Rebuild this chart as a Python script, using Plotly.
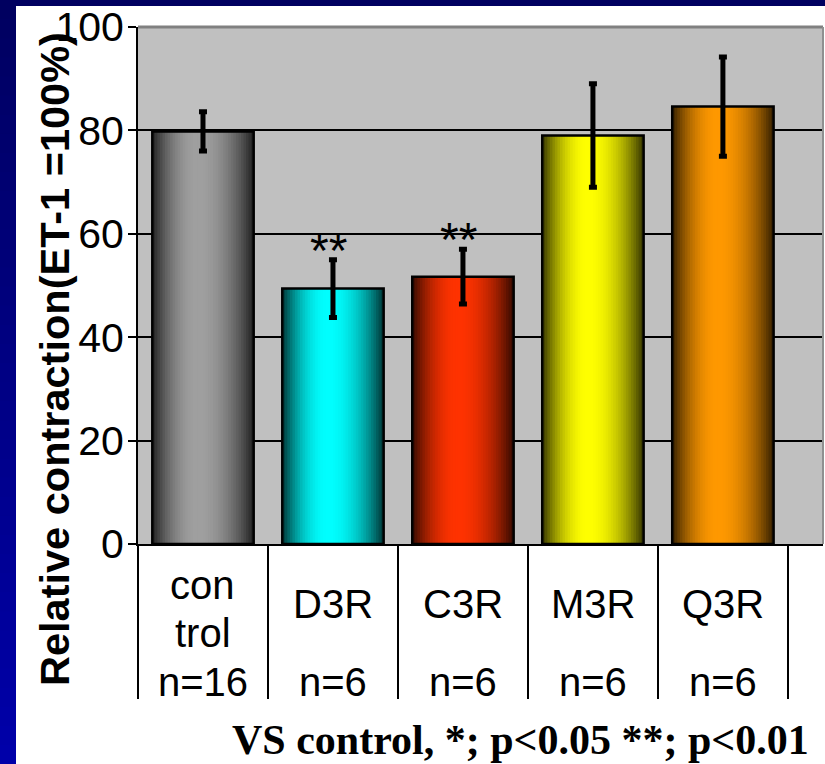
import plotly.graph_objects as go

# ---------------- data ----------------
categories = ["control", "D3R", "C3R", "M3R", "Q3R"]
values = [79.8, 49.4, 51.7, 79.0, 84.6]
errors = [3.8, 5.6, 5.3, 10.0, 9.6]
name_labels = [["con", "trol"], ["D3R"], ["C3R"], ["M3R"], ["Q3R"]]
n_labels = ["n=16", "n=6", "n=6", "n=6", "n=6"]
significance = ["", "**", "**", "", ""]
y_ticks = [0, 20, 40, 60, 80, 100]
y_title = "Relative contraction(ET-1 =100%)"
note = "VS control, *; p<0.05 **; p<0.01"

# ---------------- style ----------------
bar_rgb = [(160, 160, 160), (0, 255, 255), (255, 51, 0), (255, 255, 0), (255, 153, 0)]
W, H = 825, 764
ML, MR, MT, MB = 138, 2, 27, 220
PW, PH = W - ML - MR, H - MT - MB
SANS = "Liberation Sans, Arial, sans-serif"
SERIF = "Liberation Serif, Times New Roman, serif"
BW = 0.78
NSTRIP = 40


def px_x(px):
    return (px - ML) / PW


def px_y(py):
    return (H - MB - py) / PH


def shade(rgb, t, peak=0.45, dark=0.2):
    u = (peak - t) / peak if t < peak else (t - peak) / (1 - peak)
    f = 1 - u ** 2
    k = dark + (1 - dark) * f
    return "rgb(%d,%d,%d)" % tuple(int(c * k) for c in rgb)


fig = go.Figure()

s = BW / NSTRIP
for k in range(NSTRIP):
    t = (k + 0.5) / NSTRIP
    w = s * 1.6 if k < NSTRIP - 1 else s
    fig.add_trace(go.Bar(
        x=categories, y=values,
        width=[w] * len(categories), offset=-BW / 2 + k * s,
        marker=dict(color=[shade(c, t) for c in bar_rgb], line=dict(width=0)),
        hoverinfo="skip", showlegend=False,
    ))

fig.add_trace(go.Bar(
    x=categories, y=values,
    width=[BW] * len(categories), offset=-BW / 2,
    marker=dict(color="rgba(0,0,0,0)", line=dict(color="black", width=2.5)),
    error_y=dict(type="data", array=errors, color="black", thickness=5, width=4),
    showlegend=False,
))

annotations = []
for i, cat in enumerate(categories):
    lines = name_labels[i]
    if len(lines) == 2:
        rows = [585, 633]
    else:
        rows = [604]
    for txt, py in zip(lines, rows):
        annotations.append(dict(x=cat, y=px_y(py), xref="x", yref="paper", text=txt,
                                showarrow=False, yanchor="middle",
                                font=dict(family=SANS, size=40, color="black")))
    annotations.append(dict(x=cat, y=px_y(682), xref="x", yref="paper", text=n_labels[i],
                            showarrow=False, yanchor="middle",
                            font=dict(family=SANS, size=40, color="black")))
    if significance[i]:
        annotations.append(dict(x=cat, y=values[i] + errors[i], xref="x", yref="y",
                                text=significance[i], showarrow=False, yanchor="bottom",
                                yshift=-19, xshift=-4,
                                font=dict(family=SANS, size=48, color="black")))

annotations.append(dict(x=px_x(54), y=px_y(359), xref="paper", yref="paper", text=y_title,
                        textangle=-90, showarrow=False, xanchor="center", yanchor="middle",
                        font=dict(family=SANS, size=41.5, color="black", weight="bold")))
annotations.append(dict(x=px_x(520), y=px_y(740), xref="paper", yref="paper", text=note,
                        showarrow=False, xanchor="center", yanchor="middle",
                        font=dict(family=SERIF, size=42, color="black", weight="bold")))

shapes = []
# navy frame (left strip gradient + top strip)
NG = 40
for j in range(NG):
    y0 = H * j / NG
    y1 = H * (j + 1) / NG + 1
    tt = (j + 0.5) / NG
    b = int(0x60 + (0xAA - 0x60) * tt)
    shapes.append(dict(type="rect", xref="paper", yref="paper",
                       x0=px_x(0), x1=px_x(16), y0=px_y(y1), y1=px_y(y0),
                       fillcolor="rgb(0,0,%d)" % b, line=dict(width=0), layer="above"))
shapes.append(dict(type="rect", xref="paper", yref="paper",
                   x0=px_x(0), x1=px_x(W), y0=px_y(6), y1=px_y(0),
                   fillcolor="rgb(0,0,96)", line=dict(width=0), layer="above"))
# plot area top/right border
shapes.append(dict(type="line", xref="paper", yref="paper", x0=0, x1=1, y0=1, y1=1,
                   line=dict(color="#808080", width=3), layer="above"))
shapes.append(dict(type="line", xref="paper", yref="paper", x0=1, x1=1, y0=0, y1=1,
                   line=dict(color="#909090", width=2), layer="above"))

fig.update_layout(
    width=W, height=H,
    margin=dict(l=ML, r=MR, t=MT, b=MB, pad=0),
    paper_bgcolor="white", plot_bgcolor="#C0C0C0",
    barmode="overlay",
    showlegend=False,
    annotations=annotations,
    shapes=shapes,
    xaxis=dict(
        type="category", range=[-0.5, 4.77],
        showticklabels=False, showgrid=False, zeroline=False,
        showline=True, linecolor="black", linewidth=2,
        ticks="outside", tickson="boundaries", ticklen=153, tickwidth=2, tickcolor="black",
        fixedrange=True,
    ),
    yaxis=dict(
        range=[0, 100], tickvals=y_ticks, ticktext=[str(v) for v in y_ticks],
        showgrid=True, gridcolor="black", gridwidth=2, zeroline=False,
        showline=True, linecolor="black", linewidth=2,
        ticks="outside", ticklen=8, tickwidth=2, tickcolor="black",
        ticklabelstandoff=-4,
        tickfont=dict(family=SANS, size=41, color="black"),
        fixedrange=True,
    ),
)

fig.write_html("out.html", config={"displayModeBar": False})
